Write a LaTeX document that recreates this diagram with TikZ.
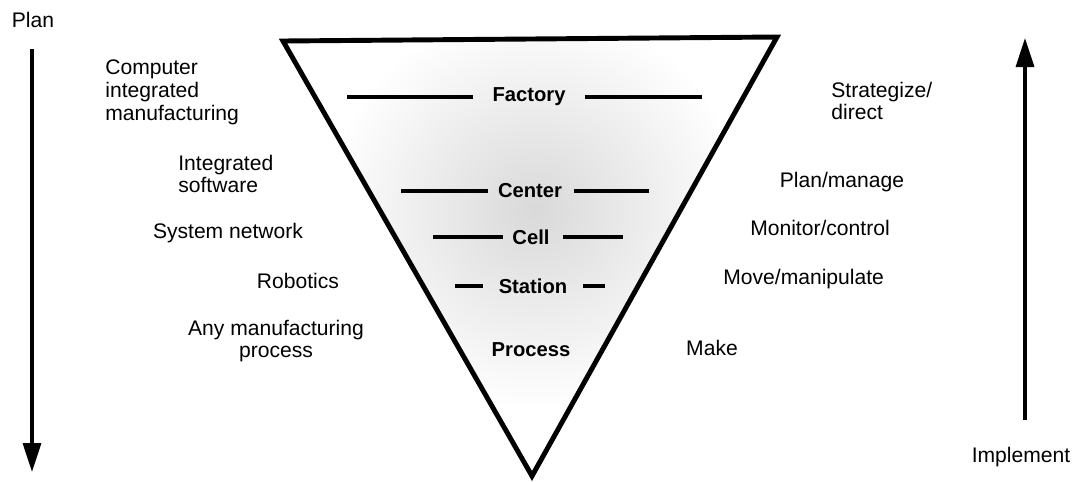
\documentclass[tikz,border=0pt]{standalone}
\usepackage{fontspec}
\setmainfont{Liberation Sans}
\usetikzlibrary{arrows.meta}
\tikzset{
    main_line/.style = {
        draw=black,
        line width=2.8pt,
        line join=miter
    },
    level_line/.style = {
        draw=black,
        line width=1.9pt
    },
    big_arrow/.style = {
        draw=black,
        line width=1.9pt,
        -{Triangle[width=0.36cm, length=0.58cm]}
    },
    side_text/.style = {
        font=\fontsize{12}{13}\selectfont,
        inner sep=0pt
    },
    level_text/.style = {
        font=\fontsize{11.5}{13}\selectfont\bfseries,
        inner sep=0pt
    },
}

\begin{document}
\begin{tikzpicture}[x=0.02cm, y=-0.02cm]
    \useasboundingbox (0,0) rectangle (1075,481);

    % inverted pyramid
    \coordinate (top_left) at (283,41);
    \coordinate (top_right) at (777,37);
    \coordinate (apex) at (532,476);
    \begin{scope}
        \clip (top_left) -- (top_right) -- (apex) -- cycle;
        \shade[inner color=gray!30, outer color=white] (535,210) ellipse [x radius=210, y radius=200];
    \end{scope}
    \path[main_line] (top_left) -- (top_right) -- (apex) -- cycle;

    % levels
    \node[level_text] (factory) at (529,97) {Factory};
    \node[level_text] (center_level) at (530,191) {Center};
    \node[level_text] (cell) at (531,237) {Cell};
    \node[level_text] (station) at (533,286) {Station};
    \node[level_text] (process) at (531,350) {Process};

    \path[level_line] (347,0 |- factory) -- (473,0 |- factory);
    \path[level_line] (585,0 |- factory) -- (702,0 |- factory);
    \path[level_line] (401,0 |- center_level) -- (488,0 |- center_level);
    \path[level_line] (574,0 |- center_level) -- (649,0 |- center_level);
    \path[level_line] (433,0 |- cell) -- (503,0 |- cell);
    \path[level_line] (563,0 |- cell) -- (623,0 |- cell);
    \path[level_line] (455,0 |- station) -- (483,0 |- station);
    \path[level_line] (583,0 |- station) -- (605,0 |- station);

    % left column
    \node[side_text, anchor=west, align=left] (cim) at (105,92) {Computer\\integrated\\manufacturing};
    \node[side_text, anchor=west, align=left] (software) at (178,174) {Integrated\\software};
    \node[side_text] (network) at (228,233) {System network};
    \node[side_text] (robotics) at (298,281) {Robotics};
    \node[side_text, align=center] (any_process) at (276,341) {Any manufacturing\\process};

    % right column
    \node[side_text, anchor=west, align=left] (strategize) at (831,101) {Strategize/\\direct};
    \node[side_text] (plan_manage) at (842,182) {Plan/manage};
    \node[side_text] (monitor) at (820,228) {Monitor/control};
    \node[side_text, anchor=west] (move) at (723,279) {Move/manipulate};
    \node[side_text] (make) at (712,348) {Make};

    % plan / implement arrows
    \node[side_text] (plan) at (33,20) {Plan};
    \node[side_text] (implement) at (1021,457) {Implement};
    \coordinate (plan_start) at (32,49);
    \coordinate (plan_end) at (32,472);
    \path[big_arrow] (plan_start) -- (plan_end);
    \coordinate (impl_start) at (1025,420);
    \coordinate (impl_end) at (1025,38);
    \path[big_arrow] (impl_start) -- (impl_end);
\end{tikzpicture}
\end{document}
